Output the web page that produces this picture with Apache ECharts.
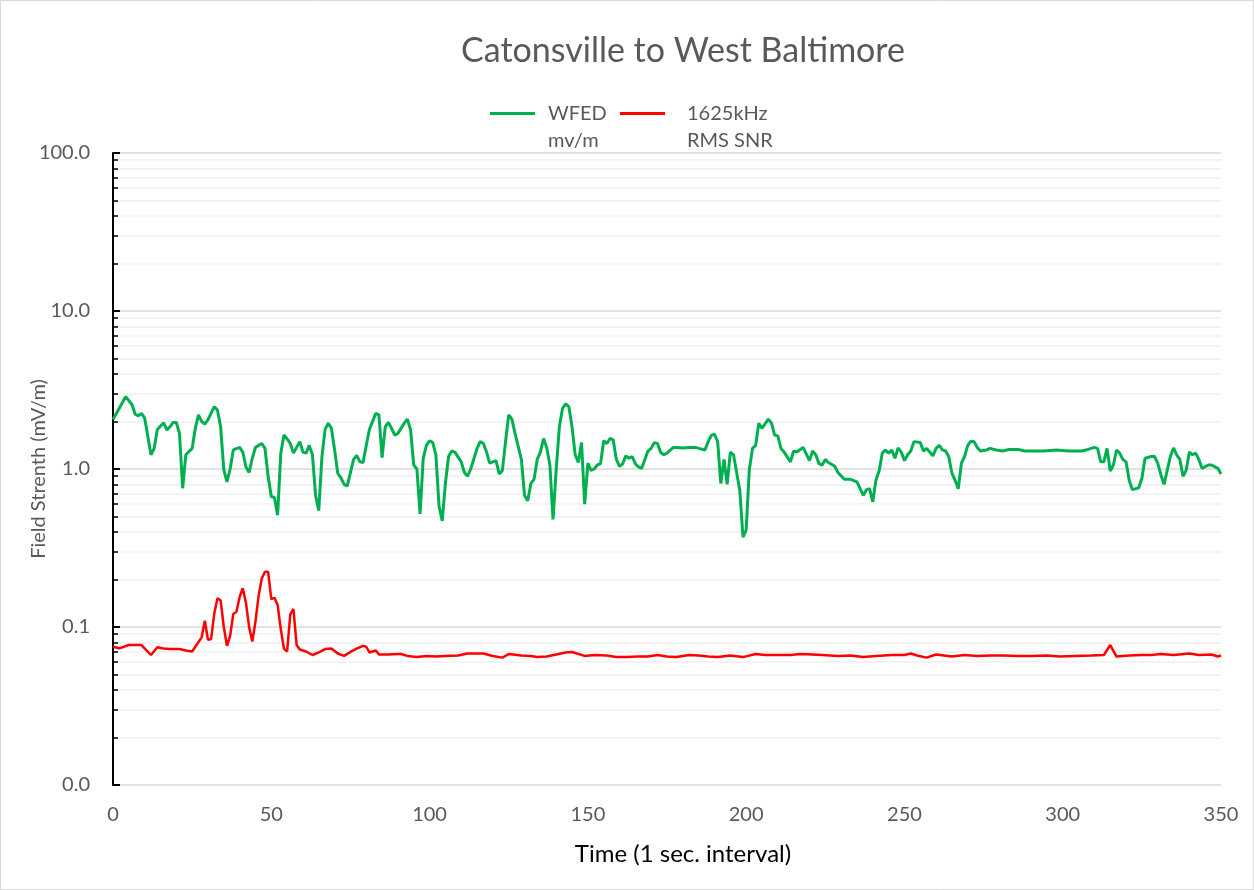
<!DOCTYPE html>
<html>
<head>
<meta charset="utf-8">
<title>Catonsville to West Baltimore</title>
<script src="https://cdn.jsdelivr.net/npm/echarts@6/dist/echarts.min.js"></script>
<style>
  html, body { margin: 0; padding: 0; background: #ffffff; }
  #chart { width: 1254px; height: 890px; }
</style>
</head>
<body>
<div id="chart"></div>
<script>
// Drive test: field strength readings, one sample per second
const wfedTime = [
  0, 4, 6, 7, 8, 9, 10, 12, 13, 14, 16, 17, 18, 19, 20, 21, 22, 23, 25, 26,
  27, 28, 29, 30, 32, 33, 34, 35, 36, 37, 38, 40, 41, 42, 43, 44, 45, 47, 48, 49,
  50, 51, 52, 53, 54, 55, 56, 57, 59, 60, 61, 62, 63, 64, 65, 66, 67, 68, 69, 70,
  71, 72, 73, 74, 76, 77, 78, 79, 80, 81, 83, 84, 85, 86, 87, 88, 89, 90, 92, 93,
  94, 95, 96, 97, 98, 99, 100, 101, 102, 103, 104, 105, 106, 107, 108, 110, 111, 112, 113, 115,
  116, 117, 118, 119, 120, 121, 122, 123, 124, 125, 126, 127, 129, 130, 131, 132, 133, 134, 135, 136,
  137, 138, 139, 140, 141, 142, 143, 144, 145, 146, 147, 148, 149, 150, 151, 152, 153, 154, 155, 156,
  157, 158, 159, 160, 161, 162, 163, 164, 165, 166, 167, 169, 170, 171, 172, 173, 174, 175, 177, 178,
  180, 182, 184, 185, 187, 188, 189, 190, 191, 192, 193, 194, 195, 196, 198, 199, 200, 201, 202, 203,
  204, 205, 207, 208, 209, 210, 211, 212, 214, 215, 216, 218, 220, 221, 222, 223, 224, 225, 226, 228,
  229, 231, 233, 235, 237, 238, 239, 240, 241, 242, 243, 244, 245, 246, 247, 248, 249, 250, 251, 252,
  253, 255, 256, 257, 258, 259, 260, 261, 262, 263, 264, 265, 266, 267, 268, 269, 270, 271, 272, 273,
  274, 276, 277, 279, 281, 283, 286, 288, 290, 294, 298, 302, 306, 308, 310, 311, 312, 313, 314, 315,
  316, 317, 318, 319, 320, 321, 322, 324, 325, 326, 328, 329, 330, 331, 332, 334, 335, 336, 337, 338,
  339, 340, 341, 342, 343, 344, 346, 347, 349, 350
];
const wfedValues = [
  2.06, 2.87, 2.55, 2.22, 2.17, 2.25, 2.10, 1.23, 1.35, 1.78, 1.96, 1.77, 1.85, 1.97, 1.97, 1.68, 0.755, 1.23, 1.35, 1.81,
  2.20, 2.00, 1.92, 2.05, 2.48, 2.36, 1.85, 0.99, 0.83, 1.00, 1.32, 1.37, 1.28, 1.03, 0.95, 1.17, 1.37, 1.45, 1.35, 0.90,
  0.67, 0.66, 0.51, 1.26, 1.64, 1.55, 1.45, 1.26, 1.49, 1.28, 1.26, 1.41, 1.23, 0.68, 0.545, 1.20, 1.78, 1.95, 1.81, 1.32,
  0.94, 0.88, 0.80, 0.78, 1.15, 1.22, 1.11, 1.10, 1.41, 1.78, 2.25, 2.20, 1.18, 1.85, 1.97, 1.81, 1.64, 1.68, 1.95, 2.07,
  1.77, 1.06, 1.00, 0.52, 1.17, 1.41, 1.51, 1.47, 1.23, 0.58, 0.47, 0.81, 1.20, 1.30, 1.28, 1.11, 0.95, 0.90, 1.00, 1.35,
  1.49, 1.45, 1.28, 1.09, 1.11, 1.13, 0.93, 0.98, 1.49, 2.20, 2.07, 1.68, 1.15, 0.68, 0.63, 0.81, 0.86, 1.15, 1.28, 1.56,
  1.37, 1.06, 0.48, 0.99, 1.85, 2.42, 2.58, 2.48, 1.85, 1.23, 1.10, 1.47, 0.60, 1.09, 0.98, 1.00, 1.06, 1.08, 1.51, 1.45,
  1.56, 1.53, 1.15, 1.04, 1.08, 1.21, 1.17, 1.20, 1.08, 1.03, 1.01, 1.30, 1.35, 1.47, 1.45, 1.27, 1.23, 1.26, 1.37, 1.37,
  1.36, 1.37, 1.37, 1.35, 1.32, 1.49, 1.63, 1.66, 1.49, 0.81, 1.15, 0.80, 1.28, 1.23, 0.73, 0.37, 0.41, 0.99, 1.35, 1.41,
  1.95, 1.81, 2.07, 1.95, 1.64, 1.62, 1.35, 1.28, 1.11, 1.30, 1.28, 1.37, 1.13, 1.30, 1.23, 1.08, 1.06, 1.15, 1.10, 1.04,
  0.95, 0.86, 0.86, 0.83, 0.68, 0.74, 0.75, 0.62, 0.85, 0.97, 1.26, 1.32, 1.26, 1.32, 1.17, 1.36, 1.28, 1.13, 1.23, 1.30,
  1.49, 1.47, 1.30, 1.35, 1.28, 1.21, 1.35, 1.41, 1.32, 1.30, 1.20, 0.94, 0.85, 0.75, 1.09, 1.20, 1.41, 1.50, 1.49, 1.37,
  1.30, 1.32, 1.35, 1.32, 1.30, 1.33, 1.33, 1.30, 1.30, 1.30, 1.32, 1.30, 1.30, 1.33, 1.37, 1.35, 1.11, 1.11, 1.35, 0.97,
  1.06, 1.32, 1.26, 1.15, 1.11, 0.85, 0.74, 0.76, 0.87, 1.17, 1.20, 1.20, 1.09, 0.92, 0.80, 1.20, 1.36, 1.23, 1.15, 0.90,
  0.98, 1.28, 1.23, 1.26, 1.15, 1.01, 1.06, 1.06, 1.01, 0.93
];

const snrTime = [
  0, 2, 5, 7, 9, 12, 14, 16, 18, 21, 23, 25, 26, 28, 29, 30, 31, 32, 33, 34,
  35, 36, 37, 38, 39, 40, 41, 42, 43, 44, 45, 46, 47, 48, 49, 50, 51, 52, 53, 54,
  55, 56, 57, 58, 59, 61, 63, 65, 67, 69, 71, 73, 75, 77, 79, 80, 81, 83, 84, 87,
  90, 91, 93, 96, 99, 102, 105, 109, 112, 115, 117, 120, 123, 125, 129, 132, 134, 137, 140, 143,
  145, 149, 152, 156, 159, 162, 166, 169, 172, 175, 178, 182, 185, 188, 191, 195, 199, 203, 206, 211,
  214, 217, 221, 224, 229, 233, 237, 241, 246, 250, 252, 254, 257, 260, 265, 269, 273, 277, 281, 286,
  290, 295, 299, 304, 309, 313, 315, 317, 321, 325, 328, 331, 335, 340, 343, 347, 349, 350
];
const snrValues = [
  0.075, 0.0733, 0.0769, 0.077, 0.0769, 0.0665, 0.0745, 0.073, 0.0725, 0.0725, 0.071, 0.070, 0.075, 0.086, 0.1096, 0.083, 0.084, 0.122, 0.152, 0.147,
  0.100, 0.076, 0.088, 0.121, 0.125, 0.155, 0.176, 0.142, 0.100, 0.081, 0.108, 0.158, 0.203, 0.224, 0.224, 0.150, 0.153, 0.138, 0.097, 0.073,
  0.070, 0.120, 0.130, 0.077, 0.072, 0.070, 0.0665, 0.069, 0.0725, 0.073, 0.068, 0.0656, 0.0695, 0.073, 0.076, 0.075, 0.069, 0.071, 0.067, 0.067,
  0.0675, 0.0675, 0.0656, 0.0645, 0.0656, 0.065, 0.0656, 0.066, 0.068, 0.068, 0.068, 0.0656, 0.064, 0.0675, 0.066, 0.0656, 0.0645, 0.065, 0.067, 0.069,
  0.0695, 0.0656, 0.0665, 0.066, 0.0645, 0.0645, 0.065, 0.065, 0.0665, 0.065, 0.0645, 0.0665, 0.066, 0.065, 0.0645, 0.066, 0.0645, 0.0675, 0.0665, 0.0665,
  0.0665, 0.0675, 0.067, 0.0665, 0.0656, 0.066, 0.0645, 0.0656, 0.0665, 0.0665, 0.068, 0.066, 0.064, 0.067, 0.065, 0.0665, 0.0656, 0.066, 0.066, 0.0656,
  0.0656, 0.066, 0.065, 0.0656, 0.066, 0.0665, 0.0769, 0.065, 0.066, 0.0665, 0.0665, 0.0675, 0.0665, 0.068, 0.0665, 0.067, 0.065, 0.066
];

const seriesNames = ['WFED\nmv/m', '1625kHz\nRMS SNR'];
const xTicks = { min: 0, max: 350, step: 50 };
const yRange = { min: 0.01, max: 100 };

const pair = (xs, ys) => xs.map((x, i) => [x, ys[i]]);

const FONT = 'Lato, "Open Sans", "Noto Sans", sans-serif';
const GREY = '#595959';

// One legend block per series so each entry sits in its own column
const legendBlock = (name, left, textPad) => ({
  left: left,
  top: 68,
  icon: 'rect',
  itemWidth: 45,
  itemHeight: 3,
  formatter: n => '\n' + n,
  textStyle: { fontFamily: FONT, fontSize: 20, color: GREY, lineHeight: 27, padding: [0, 0, 0, textPad] },
  data: [name]
});

const chart = echarts.init(document.getElementById('chart'), null, { renderer: 'canvas' });

chart.setOption({
  backgroundColor: '#ffffff',
  animation: false,
  textStyle: { fontFamily: FONT },
  title: {
    text: 'Catonsville to West Baltimore',
    left: 678,
    top: 29,
    textAlign: 'center',
    textStyle: { fontFamily: FONT, fontSize: 34, fontWeight: 'normal', color: GREY }
  },
  legend: [
    legendBlock(seriesNames[0], 485, 8),
    legendBlock(seriesNames[1], 615, 17)
  ],
  grid: { left: 113, right: 33, top: 153, bottom: 105, containLabel: false },
  xAxis: {
    type: 'value',
    min: xTicks.min,
    max: xTicks.max,
    interval: xTicks.step,
    name: 'Time (1 sec. interval)',
    nameLocation: 'middle',
    nameGap: 57,
    nameTextStyle: { fontFamily: FONT, fontSize: 24, color: '#000000', padding: [0, 0, 0, 32] },
    axisLine: { show: false },
    axisTick: { show: false },
    splitLine: { show: false },
    axisLabel: { fontFamily: FONT, fontSize: 20, color: GREY, margin: 20 }
  },
  yAxis: {
    type: 'log',
    logBase: 10,
    min: yRange.min,
    max: yRange.max,
    name: 'Field Strenth (mV/m)',
    nameLocation: 'middle',
    nameGap: 64,
    nameMoveOverlap: false,
    nameTextStyle: { fontFamily: FONT, fontSize: 20, color: GREY },
    axisLine: { show: true, lineStyle: { color: '#000000', width: 2 } },
    axisTick: { show: true, inside: true, length: 7, lineStyle: { color: '#000000', width: 2 } },
    minorTick: { show: true, splitNumber: 9, length: 5, lineStyle: { color: '#000000', width: 1.5 } },
    axisLabel: {
      fontFamily: FONT, fontSize: 20, color: GREY, margin: 23,
      formatter: v => Number(v).toFixed(1)
    },
    splitLine: { show: true, lineStyle: { color: '#d9d9d9', width: 1.5 } },
    minorSplitLine: { show: true, lineStyle: { color: '#efefef', width: 1.5 } }
  },
  series: [
    {
      name: seriesNames[0],
      type: 'line',
      data: pair(wfedTime, wfedValues),
      showSymbol: false,
      symbol: 'none',
      lineStyle: { color: '#00b050', width: 3 },
      itemStyle: { color: '#00b050' },
      z: 3
    },
    {
      name: seriesNames[1],
      type: 'line',
      data: pair(snrTime, snrValues),
      showSymbol: false,
      symbol: 'none',
      lineStyle: { color: '#ff0000', width: 2.5 },
      itemStyle: { color: '#ff0000' },
      z: 2
    }
  ],
  graphic: [
    {
      type: 'rect',
      shape: { x: 0.5, y: 0.5, width: 1253, height: 889 },
      style: { fill: 'none', stroke: '#d9d9d9', lineWidth: 1 },
      silent: true
    }
  ]
});
</script>
</body>
</html>
